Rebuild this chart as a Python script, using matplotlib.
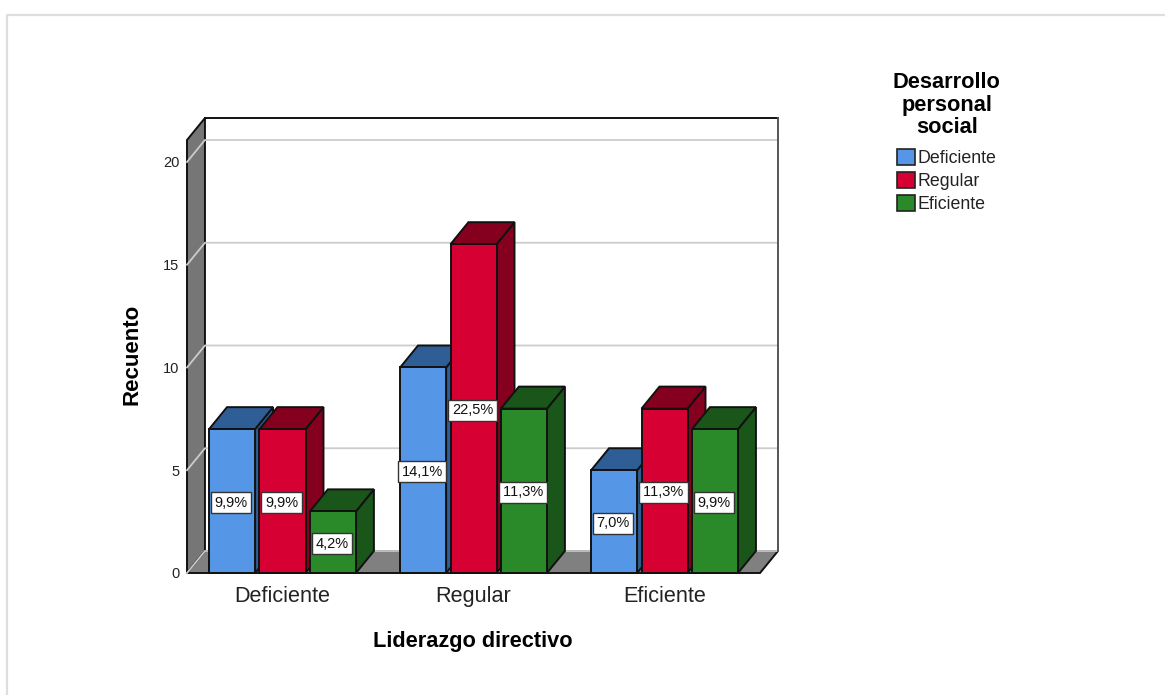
import matplotlib
matplotlib.use("Agg")
import matplotlib.pyplot as plt
from matplotlib.lines import Line2D
from matplotlib.patches import Patch, Polygon

plt.rcParams["font.family"] = ["Liberation Sans", "DejaVu Sans"]
plt.rcParams["text.kerning_factor"] = 6

categories = ["Deficiente", "Regular", "Eficiente"]
series = ["Deficiente", "Regular", "Eficiente"]
counts = [
    [7, 7, 3],
    [10, 16, 8],
    [5, 8, 7],
]
percents = [
    ["9,9%", "9,9%", "4,2%"],
    ["14,1%", "22,5%", "11,3%"],
    ["7,0%", "11,3%", "9,9%"],
]
y_ticks = [0, 5, 10, 15, 20]

front_colors = ["#5596e6", "#d60032", "#2a8a2a"]
top_colors = ["#2f5d96", "#85001f", "#1a551a"]
side_colors = ["#2f5d96", "#85001f", "#1a551a"]

# fake 3D depth, in data units
DX = 0.094
DY = 1.07
XMAX = 3.094
WALL_TOP = 21.07
BAR_W = 0.241
PITCH = 0.264
EDGE = "#111111"
LW = 1.4


def poly(ax, pts, face, edge=EDGE, z=2, lw=LW):
    ax.add_patch(Polygon(pts, closed=True, facecolor=face, edgecolor=edge,
                         linewidth=lw, joinstyle="miter", zorder=z, clip_on=False))


def bar3d(ax, x0, h, j, z):
    x1 = x0 + BAR_W
    poly(ax, [(x1, 0), (x1 + DX, DY), (x1 + DX, h + DY), (x1, h)], side_colors[j], z=z)
    poly(ax, [(x0, h), (x0 + DX, h + DY), (x1 + DX, h + DY), (x1, h)], top_colors[j], z=z)
    poly(ax, [(x0, 0), (x1, 0), (x1, h), (x0, h)], front_colors[j], z=z)


fig = plt.figure(figsize=(11.65, 6.95), dpi=100)
ax = fig.add_axes([187 / 1165, (695 - 573) / 695, 591 / 1165, 455 / 695])
ax.set_xlim(0, XMAX)
ax.set_ylim(0, WALL_TOP + DY)
ax.patch.set_visible(False)
for s in ax.spines.values():
    s.set_visible(False)

# outer chart border
fig.add_artist(Line2D([7 / 1165, 7 / 1165, 1], [0, 1 - 15 / 695, 1 - 15 / 695],
                      color="#dedede", lw=1.6))

# walls and floor
poly(ax, [(DX, DY), (XMAX, DY), (XMAX, WALL_TOP + DY), (DX, WALL_TOP + DY)], "white", edge="none", z=1)
poly(ax, [(0, 0), (DX, DY), (DX, WALL_TOP + DY), (0, WALL_TOP)], "#767676", z=1.2)
poly(ax, [(0, 0), (XMAX - DX, 0), (XMAX, DY), (DX, DY)], "#808080", z=1.2)
ax.plot([DX, XMAX], [WALL_TOP + DY] * 2, color=EDGE, lw=LW, zorder=1.4, clip_on=False)
ax.plot([XMAX, XMAX], [DY, WALL_TOP + DY], color="#555555", lw=LW, zorder=1.4, clip_on=False)

# gridlines run across the side wall and the back wall
for v in y_ticks:
    ax.plot([0, DX, XMAX], [v, v + DY, v + DY], color="#cccccc", lw=1.3, zorder=1.3,
            solid_joinstyle="miter", clip_on=False)

z = 3
for i, cat in enumerate(categories):
    for j in range(len(series)):
        x0 = i + 0.5 + (j - 1) * PITCH - BAR_W / 2
        h = counts[i][j]
        bar3d(ax, x0, h, j, z)
        z += 1
        ax.text(x0 + BAR_W / 2 - 0.005, h / 2, percents[i][j], ha="center", va="center_baseline",
                fontsize=10.5, color="#111111", zorder=50,
                bbox=dict(boxstyle="square,pad=0.24", facecolor="white",
                          edgecolor="#333333", linewidth=1.0))

ax.set_xticks([i + 0.5 for i in range(len(categories))])
ax.set_xticklabels(categories, fontsize=15.6, color="#222222")
ax.set_yticks(y_ticks)
ax.set_yticklabels([str(v) for v in y_ticks], fontsize=10.5, color="#222222", va="center_baseline")
ax.tick_params(axis="x", length=0, pad=9.5)
ax.tick_params(axis="y", length=0, pad=5.5)

ax.set_xlabel("Liderazgo directivo", fontsize=15.7, fontweight="bold", x=0.484, labelpad=17)
ax.set_ylabel("Recuento", fontsize=16, fontweight="bold", y=0.48, labelpad=15)

handles = [Patch(facecolor=front_colors[j], edgecolor="#222222", linewidth=1.2, label=series[j])
           for j in range(len(series))]
leg = fig.legend(handles=handles, title="Desarrollo\npersonal\nsocial", frameon=False,
                 title_fontproperties={"weight": "bold", "size": 15.7}, alignment="center",
                 fontsize=12.8, labelcolor="#222222", loc="upper left",
                 bbox_to_anchor=(893 / 1165, 1 - 72 / 695), borderaxespad=0, borderpad=0,
                 handlelength=1.0, handleheight=1.0, handletextpad=0.15, labelspacing=0.28)
leg.get_title().set_multialignment("center")
leg.get_title().set_linespacing(1.1)
# gap between the legend title and its entries
leg._legend_box.sep = 8

fig.savefig("out.png", dpi=100)
